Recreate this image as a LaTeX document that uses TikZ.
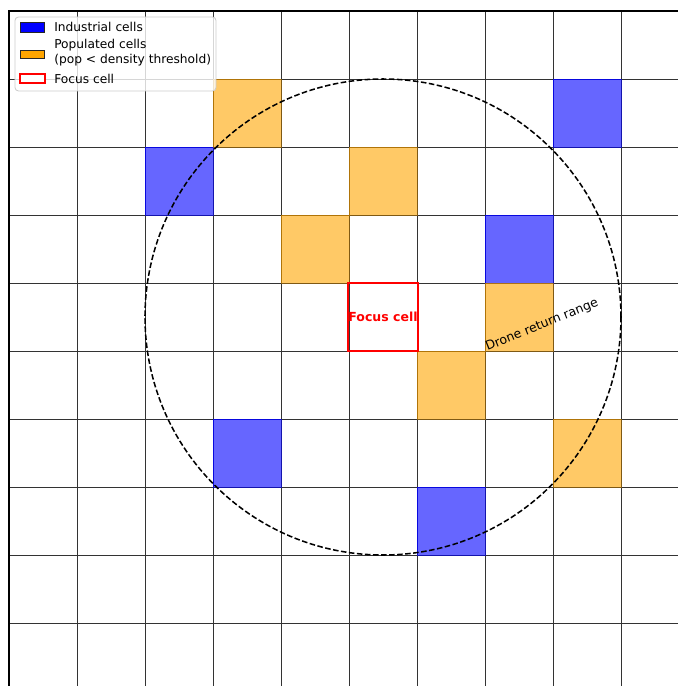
\documentclass[tikz,border=0pt]{standalone}
\usepackage{fontspec}
\setmainfont{DejaVu Sans}
\usetikzlibrary{positioning}
\definecolor{mplBlue}{RGB}{0,0,255}
\definecolor{mplOrange}{RGB}{255,165,0}
\definecolor{mplRed}{RGB}{255,0,0}

\begin{document}
\begin{tikzpicture}[
  x=48.96pt, y=48.96pt,
  gridline/.style={black!80, line width=0.55pt},
  industrial/.style={fill=mplBlue, draw=mplBlue, opacity=0.6, line width=0.7pt},
  populated/.style={fill=mplOrange, draw=mplOrange!70!black, opacity=0.6, line width=0.7pt},
  focusbox/.style={draw=mplRed, line width=1.5pt, minimum size=48.96pt, inner sep=0pt,
    font=\fontsize{9}{11}\selectfont\bfseries, text=mplRed},
  rangecircle/.style={black, line width=1.1pt, dash pattern=on 4pt off 1.8pt},
  rangelabel/.style={font=\fontsize{9}{11}\selectfont, inner sep=0pt},
  legendframe/.style={draw=black!20, fill=white, fill opacity=0.8, rounded corners=2.5pt, line width=0.6pt},
  legendtext/.style={font=\fontsize{8.8}{10.8}\selectfont, anchor=west, align=left, inner sep=0pt},
]
  \useasboundingbox (-0.1324,0.0735) rectangle (9.838,10.162);
  \clip (-0.1324,0.0735) rectangle (9.838,10.162);

  \foreach \k in {0,...,10} {
    \draw[gridline] (\k,0) -- (\k,10);
    \draw[gridline] (0,\k) -- (10,\k);
  }
  \draw[black, line width=0.8pt] (0,0) -- (0,10) -- (10,10);

  % cells
  \foreach \cx/\cy in {8/8, 2/7, 7/6, 3/3, 6/2}
    \draw[industrial] (\cx,\cy) rectangle ++(1,1);
  \foreach \cx/\cy in {3/8, 5/7, 4/6, 7/5, 6/4, 8/3}
    \draw[populated] (\cx,\cy) rectangle ++(1,1);

  \node[focusbox] (focus) at (5.5,5.5) {Focus cell};

  % return range
  \draw[rangecircle] (focus.center) circle (3.5);
  \node[rangelabel, rotate=22] (rangetext) at (7.84,5.38) {Drone return range};

  % legend
  \draw[legendframe] (0.088,8.824) rectangle (3.044,9.912);
  \draw[fill=mplBlue, draw=black!85, line width=0.7pt] (0.162,9.691) rectangle (0.529,9.824);
  \draw[fill=mplOrange, draw=black!85, line width=0.7pt] (0.162,9.309) rectangle (0.529,9.426);
  \draw[fill=white, draw=mplRed, line width=1.4pt] (0.162,8.941) rectangle (0.529,9.074);
  \node[legendtext] (legInd) at (0.662,9.765) {Industrial cells};
  \node[legendtext] (legPop) at (0.662,9.385) {Populated cells\\(pop < density threshold)};
  \node[legendtext] (legFocus) at (0.662,9.0) {Focus cell};
\end{tikzpicture}
\end{document}
